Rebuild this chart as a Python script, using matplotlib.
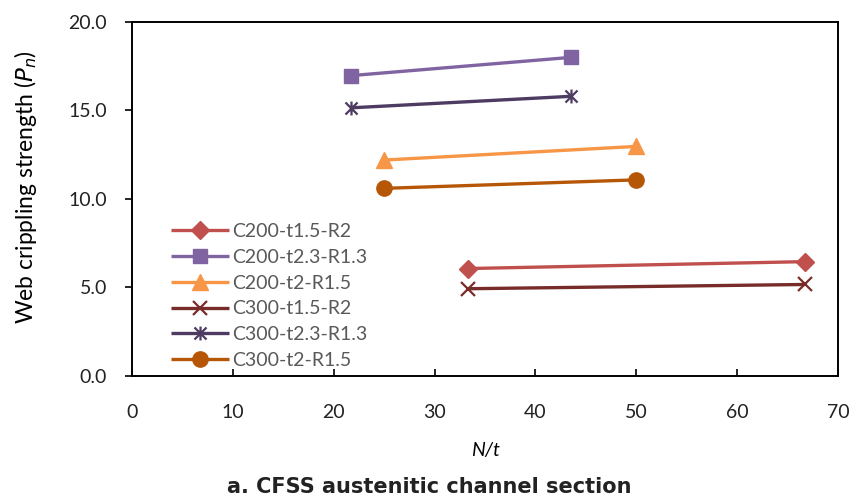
import matplotlib
matplotlib.use("Agg")
import matplotlib.pyplot as plt
from matplotlib.path import Path

# Slenderness N/t and web crippling strength for each section
series_names = ["C200-t1.5-R2", "C200-t2.3-R1.3", "C200-t2-R1.5",
                "C300-t1.5-R2", "C300-t2.3-R1.3", "C300-t2-R1.5"]
x_c200_t15 = [33.3, 66.7]
y_c200_t15 = [6.07, 6.46]
x_c200_t23 = [21.7, 43.5]
y_c200_t23 = [16.97, 18.0]
x_c200_t2 = [25.0, 50.0]
y_c200_t2 = [12.2, 12.97]
x_c300_t15 = [33.3, 66.7]
y_c300_t15 = [4.93, 5.17]
x_c300_t23 = [21.7, 43.5]
y_c300_t23 = [15.15, 15.8]
x_c300_t2 = [25.0, 50.0]
y_c300_t2 = [10.6, 11.08]

xs = [x_c200_t15, x_c200_t23, x_c200_t2, x_c300_t15, x_c300_t23, x_c300_t2]
ys = [y_c200_t15, y_c200_t23, y_c200_t2, y_c300_t15, y_c300_t23, y_c300_t2]

# Asterisk marker: an X with a vertical stroke through it
asterisk = Path(
    [(-1, -1), (1, 1), (-1, 1), (1, -1), (0, -1.15), (0, 1.15)],
    [Path.MOVETO, Path.LINETO, Path.MOVETO, Path.LINETO, Path.MOVETO, Path.LINETO],
)

styles = [
    dict(color="#C0504D", marker="D", ms=9),
    dict(color="#8064A2", marker="s", ms=10.5),
    dict(color="#F79646", marker="^", ms=11),
    dict(color="#772C2A", marker="x", ms=10, mew=1.6),
    dict(color="#4D3B62", marker=asterisk, ms=10, mew=1.6),
    dict(color="#B65708", marker="o", ms=11),
]

plt.rcParams["font.family"] = ["Lato", "DejaVu Sans"]

fig = plt.figure(figsize=(8.54, 5.03), dpi=100)
ax = fig.add_axes([0.1546, 0.2525, 0.8267, 0.7038])

for name, x, y, st in zip(series_names, xs, ys, styles):
    ax.plot(x, y, lw=2.4, label=name, solid_capstyle="butt", **st)

ax.set_xlim(0, 70)
ax.set_ylim(0, 20)
ax.set_xticks(range(0, 71, 10))
ax.set_yticks([0, 5, 10, 15, 20])
ax.set_yticklabels([f"{v:.1f}" for v in [0, 5, 10, 15, 20]])

for sp in ax.spines.values():
    sp.set_linewidth(1.4)
    sp.set_color("black")

ax.tick_params(axis="x", direction="in", length=5, width=1.2, labelsize=14,
               pad=20, labelcolor="#222222")
ax.tick_params(axis="y", direction="out", length=5, width=1.2, labelsize=14,
               pad=13, labelcolor="#222222")

ax.set_xlabel("N/t", fontsize=14, style="italic")
ax.xaxis.set_label_coords(0.5, -0.187)
ax.set_ylabel("Web crippling strength ($P_n$)", fontsize=16.5)
ax.yaxis.set_label_coords(-0.132, 0.535)

leg = ax.legend(loc="lower left", bbox_to_anchor=(0.055, 0.02), frameon=False,
                fontsize=14, handlelength=3.0, handletextpad=0.15,
                labelspacing=0.45, borderaxespad=0.0, borderpad=0.0)
for t in leg.get_texts():
    t.set_color("#595959")

fig.text(0.503, 0.012, "a. CFSS austenitic channel section", ha="center",
         va="bottom", fontsize=15, fontweight="bold", color="#222222",
         family="DejaVu Sans")

fig.savefig("out.png", dpi=100)
